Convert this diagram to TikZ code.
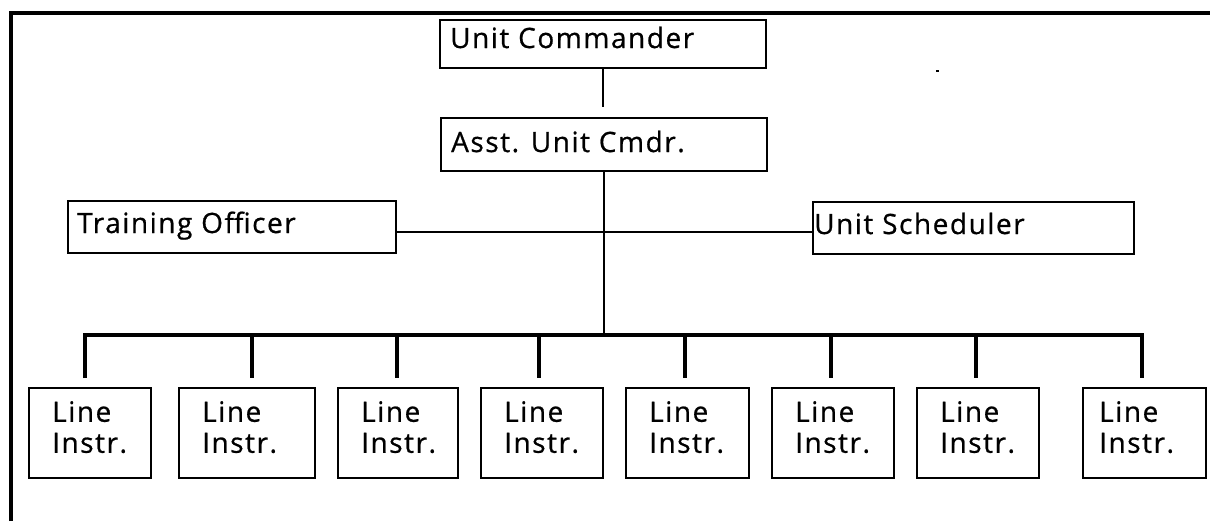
\documentclass[tikz,border=0pt]{standalone}
\usepackage{fontspec}
\setmainfont{Open Sans}[LetterSpace=5.5, FakeBold=0.7]
\usetikzlibrary{calc}
\begin{document}
\begin{tikzpicture}[x=1pt,y=-1pt,
  orgbox/.style={draw, line width=2pt, rectangle, anchor=north west, inner sep=0pt},
  lbl/.style={anchor=base west, inner sep=0pt, font=\fontsize{28}{31}\selectfont},
  lbltwo/.style={anchor=north west, inner sep=0pt, align=left, font=\fontsize{28}{31}\selectfont},
  thinline/.style={line width=1.4pt},
  heavyline/.style={line width=4pt, line join=miter},
  frameline/.style={line width=4pt, line join=miter}]
\useasboundingbox (0,0) rectangle (1210,523);

% outer frame (top and left edges)
\coordinate (fBL) at (11,521);
\coordinate (fTL) at (11,13);
\coordinate (fTR) at (1212,13);
\draw[frameline] (fBL) -- (fTL) -- (fTR);

% command chain
\node[orgbox, minimum width=326pt, minimum height=48pt] (uc) at (439,19) {};
\node[lbl] (ucT) at ([shift={(11,29)}]uc.north west) {Unit Commander};
\node[orgbox, minimum width=326pt, minimum height=53pt] (asst) at (440,117) {};
\node[lbl] (asstT) at ([shift={(11,35)}]asst.north west) {Asst. Unit Cmdr.};

% staff positions
\node[orgbox, minimum width=328pt, minimum height=52pt] (to) at (67,200) {};
\node[lbl] (toT) at ([shift={(10,33)}]to.north west) {Training Officer};
\node[orgbox, minimum width=321pt, minimum height=52pt] (us) at (812,201) {};
\node[lbl] (usT) at ([shift={(2,33)}]us.north west) {Unit Scheduler};

% line instructors
\foreach \n/\x/\w/\d in {1/28/122/24, 2/178/136/24, 3/337/120/24, 4/480/122/24,
                         5/625/123/24, 6/771/122/24, 7/916/122/24, 8/1082/123/17} {
  \node[orgbox, minimum width=\w pt, minimum height=90pt] (b\n) at (\x,387) {};
  \node[lbltwo] (bT\n) at ([shift={(\d,14)}]b\n.north west) {Line\\Instr.};
}

% tap points on the distribution bar
\coordinate (hub) at (602,335);
\foreach \n/\x in {1/85, 2/252, 3/397, 4/539, 5/685, 6/831, 7/976, 8/1142}
  \coordinate (t\n) at (\x,335);

% connectors
\draw[thinline, shorten >=10pt] (uc.south) -- (uc.south |- asst.north);
\draw[thinline] (asst.south) -- (asst.south |- hub);
\draw[thinline] ([yshift=-5pt]to.east) -- ([yshift=-5pt]to.east -| us.west);
\draw[heavyline] ($(t1 |- b1.north)+(0,-9)$) -- (t1) -- (t8) -- ($(t8 |- b8.north)+(0,-9)$);
\foreach \n in {2,...,7}
  \draw[heavyline] (t\n) -- ($(t\n |- b\n.north)+(0,-9)$);

% small ink speck
\fill (936,70) rectangle (939,72);
\end{tikzpicture}
\end{document}
